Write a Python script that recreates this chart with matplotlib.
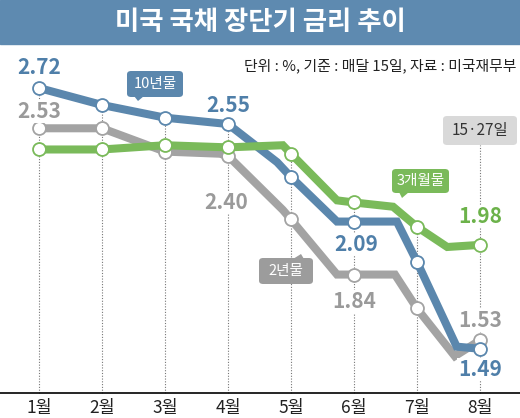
import numpy as np
import matplotlib
matplotlib.use("Agg")
import matplotlib.pyplot as plt
from matplotlib.patches import Rectangle, FancyBboxPatch, Polygon

plt.rcParams['font.family'] = ['Noto Sans CJK KR', 'DejaVu Sans']

# 데이터 (x: 월 단위, 중간 꺾임점 포함)
months = ['1월', '2월', '3월', '4월', '5월', '6월', '7월', '8월']

y10_x = [1, 2, 3, 4, 4.78, 5, 5.73, 6, 6.68, 7, 7.63, 8]
y10_v = [2.72, 2.64, 2.58, 2.55, 2.37, 2.30, 2.09, 2.09, 2.09, 1.90, 1.50, 1.49]

y2_x = [1, 2, 3, 3.87, 4, 4.87, 5, 5.73, 6, 6.65, 7, 7.60, 8]
y2_v = [2.53, 2.53, 2.42, 2.41, 2.40, 2.145, 2.10, 1.84, 1.84, 1.84, 1.68, 1.455, 1.53]

m3_x = [1, 2, 3, 4, 4.87, 5, 5.73, 6, 6.62, 7, 7.48, 8]
m3_v = [2.43, 2.43, 2.45, 2.44, 2.45, 2.41, 2.19, 2.18, 2.16, 2.065, 1.97, 1.98]

BLUE = '#5b87ad'
GRAY = '#a3a3a3'
GREEN = '#7aba5a'
TITLE_BLUE = '#5e8ab0'

W, H = 520, 418

def fx(px):
    return px / W

def fy(py):
    return 1 - py / H

fig = plt.figure(figsize=(W / 100, H / 100), dpi=100)
ax = fig.add_axes([0, 0, 1, 1])
ax.set_xlim(1 - 39 / 63, 1 + 481 / 63)
ax.set_ylim(2.72 - 330 / 212, 2.72 + 88 / 212)
ax.axis('off')

# 기준선 위치 (데이터 좌표)
base_v = 2.72 - 305 / 212

# 세로 점선
tops = {}
for xs, vs in [(y10_x, y10_v), (y2_x, y2_v), (m3_x, m3_v)]:
    for x, v in zip(xs, vs):
        if float(x).is_integer():
            tops[int(x)] = max(tops.get(int(x), 0), v)
for m in range(1, 9):
    top = tops[m]
    if m == 8:
        top = 2.72 - (145 - 88) / 212
    ax.plot([m, m], [base_v, top], color='#777777', lw=0.8,
            ls=(0, (1, 1.5)), zorder=1)

# 선 + 마커
def draw(xs, vs, color, z):
    xs = np.array(xs, dtype=float)
    vs = np.array(vs)
    ax.plot(xs, vs, color=color, lw=5.8, solid_joinstyle='miter',
            solid_capstyle='butt', zorder=z)
    mask = xs == np.round(xs)
    ax.plot(xs[mask], vs[mask], 'o', ms=9.3, mfc='white', mec=color,
            mew=1.3, zorder=z + 0.5)

draw(y2_x, y2_v, GRAY, 2)
draw(y10_x, y10_v, BLUE, 3)
draw(m3_x, m3_v, GREEN, 4)

# 값 라벨
def val_label(xs, vs, month, dx, dy, color):
    v = vs[xs.index(month)]
    ax.annotate(f'{v:.2f}', (month, v), xytext=(dx, dy),
                textcoords='offset pixels', ha='center', va='center',
                fontsize=15, fontweight='bold', color=color, zorder=6,
                bbox=dict(boxstyle='square,pad=0.05', fc='white', ec='none'))

val_label(y10_x, y10_v, 1, 0, 21, '#4f7fa9')
val_label(y2_x, y2_v, 1, 0, 17, '#9a9a9a')
val_label(y10_x, y10_v, 4, 0, 19, '#4f7fa9')
val_label(y2_x, y2_v, 4, -2, -47, '#9a9a9a')
val_label(y10_x, y10_v, 6, 2, -23, '#4f7fa9')
val_label(y2_x, y2_v, 6, 0, -27, '#9a9a9a')
val_label(m3_x, m3_v, 8, 0, 28, '#6cb24a')
val_label(y2_x, y2_v, 8, 0, 20, '#9a9a9a')
val_label(y10_x, y10_v, 8, 0, -21, '#4f7fa9')

# 말풍선
def callout(x0, y0, x1, y1, tail, text, fc, tc, fs):
    box = FancyBboxPatch((fx(x0), fy(y1)), fx(x1 - x0), (y1 - y0) / H,
                         boxstyle='round,pad=0,rounding_size=0.008',
                         fc=fc, ec='none', transform=fig.transFigure,
                         zorder=7)
    ax.add_patch(box)
    if tail:
        tri = Polygon([(fx(px), fy(py)) for px, py in tail], closed=True,
                      fc=fc, ec='none', transform=fig.transFigure, zorder=7)
        ax.add_patch(tri)
    ax.text(fx((x0 + x1) / 2), fy((y0 + y1) / 2), text, fontsize=fs,
            color=tc, ha='center', va='center', transform=fig.transFigure,
            fontweight='medium', zorder=8)

callout(127, 71, 183, 97, [(134, 96), (144, 96), (138, 101)],
        '10년물', BLUE, 'white', 10.5)
callout(392, 169, 449, 193, [(399, 192), (409, 192), (402, 198)],
        '3개월물', GREEN, 'white', 10.5)
callout(259, 258, 313, 284, [(293, 259), (304, 259), (301, 254)],
        '2년물', '#9c9c9c', 'white', 10.5)
callout(443, 116, 517, 145, None, '15·27일', '#d9d9d9', '#333333', 11)

# 기준선과 월 라벨
ax.plot([0, 1], [fy(393), fy(393)], color='black', lw=1.2,
        transform=fig.transFigure, zorder=5)
for i, m in enumerate(months):
    ax.text(i + 1, 2.72 - (408 - 88) / 212, m, ha='center', va='center',
            fontsize=12.5, color='#222222', zorder=5)

# 제목
fig.patches.append(Rectangle((0, fy(44)), 1, 44 / H, color=TITLE_BLUE,
                             transform=fig.transFigure))
fig.text(0.5, fy(23), '미국 국채 장단기 금리 추이', ha='center', va='center',
         fontsize=19, fontweight='bold', color='white')
fig.text(fx(516), fy(66), '단위 : %, 기준 : 매달 15일, 자료 : 미국재무부',
         ha='right', va='center', fontsize=10.7, color='#222222')

fig.savefig('out.png', dpi=100)
